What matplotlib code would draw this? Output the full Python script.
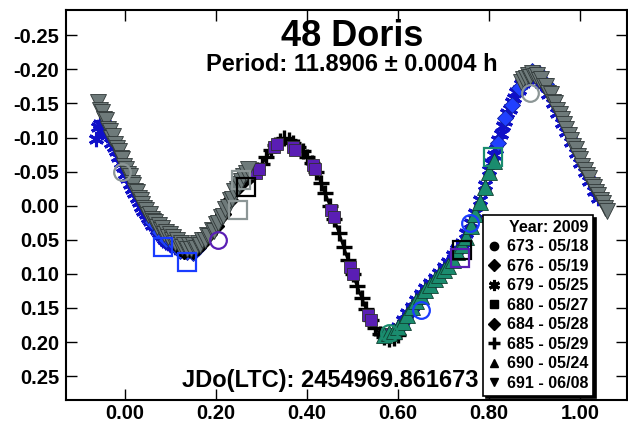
import matplotlib
matplotlib.use("Agg")
import matplotlib.pyplot as plt
from matplotlib.lines import Line2D

plt.rcParams["font.family"] = ["Liberation Sans", "DejaVu Sans"]
plt.rcParams["font.weight"] = "bold"
plt.rcParams["axes.unicode_minus"] = False

# session 679 (05/25) - blue asterisks
s679_ph = [-0.065, -0.060, -0.055, -0.050, -0.045, -0.040, -0.035, -0.030, -0.025, -0.020,
           -0.015, -0.010, -0.005, 0.000, 0.005, 0.010, 0.015, 0.020, 0.025, 0.030,
           0.035, 0.040, 0.045, 0.050, 0.055, 0.060, 0.065, 0.070, 0.075, 0.080,
           0.085, 0.090, 0.095, 0.100, 0.105, 0.110, 0.115, 0.120, 0.125, 0.130,
           0.600, 0.610, 0.620, 0.630, 0.640, 0.650, 0.660, 0.670, 0.680, 0.690,
           0.700, 0.710, 0.720, 0.730, 0.740, 0.750, 0.760, 0.770, 0.780, 0.790,
           0.800, 0.805, 0.810, 0.815, 0.820, 0.825, 0.830, 0.835, 0.840, 0.845,
           0.850, 0.855, 0.860, 0.865, 0.870, 0.875, 0.880, 0.885, 0.890, 0.895,
           0.900, 0.905, 0.910, 0.915, 0.920, 0.930, 0.940, 0.950, 0.960, 0.970,
           0.980, 0.990, 1.000, 1.010, 1.020, 1.030, 1.040]
s679_mag = [-0.098, -0.115, -0.120, -0.108, -0.118, -0.104, -0.110, -0.092, -0.086, -0.080,
            -0.072, -0.062, -0.057, -0.046, -0.040, -0.032, -0.025, -0.018, -0.012, -0.005,
            0.002, 0.008, 0.012, 0.018, 0.022, 0.028, 0.030, 0.036, 0.040, 0.044,
            0.049, 0.052, 0.055, 0.058, 0.056, 0.061, 0.060, 0.064, 0.062, 0.066,
            0.178, 0.168, 0.158, 0.148, 0.138, 0.130, 0.121, 0.114, 0.106, 0.099,
            0.090, 0.082, 0.073, 0.064, 0.054, 0.040, 0.026, 0.010, -0.008, -0.030,
            -0.052, -0.062, -0.075, -0.083, -0.097, -0.105, -0.117, -0.124, -0.136, -0.142,
            -0.152, -0.158, -0.166, -0.170, -0.178, -0.180, -0.186, -0.188, -0.191, -0.190,
            -0.192, -0.188, -0.186, -0.180, -0.178, -0.164, -0.150, -0.136, -0.122, -0.108,
            -0.093, -0.078, -0.062, -0.049, -0.036, -0.022, -0.012]

# session 676 (05/19) - blue diamonds
s676_ph = [0.060, 0.075, 0.090, 0.105, 0.120, 0.135, 0.150, 0.160,
           0.820, 0.835, 0.850, 0.865, 0.880, 0.895, 0.910, 0.925]
s676_mag = [0.024, 0.038, 0.050, 0.054, 0.066, 0.068, 0.070, 0.062,
            -0.092, -0.128, -0.148, -0.172, -0.190, -0.198, -0.195, -0.178]

# session 684 (05/28) - black diamonds
s684_ph = [0.120, 0.130, 0.140, 0.150, 0.160, 0.170, 0.185, 0.200, 0.215, 0.230, 0.245, 0.260, 0.275]
s684_mag = [0.062, 0.066, 0.064, 0.066, 0.060, 0.054, 0.042, 0.030, 0.012, -0.008, -0.026, -0.036, -0.044]

# session 685 (05/29) - black plus
s685_ph = [0.280, 0.290, 0.300, 0.310, 0.320, 0.330, 0.340, 0.350, 0.360, 0.370,
           0.380, 0.390, 0.400, 0.410, 0.420, 0.430, 0.440, 0.450, 0.460, 0.470,
           0.480, 0.490, 0.500, 0.510, 0.520, 0.530, 0.540, 0.550, 0.560, 0.570,
           0.580, 0.590, 0.600]
s685_mag = [-0.047, -0.053, -0.061, -0.071, -0.081, -0.089, -0.095, -0.099, -0.097, -0.092,
            -0.086, -0.080, -0.072, -0.062, -0.050, -0.034, -0.018, 0.000, 0.020, 0.040,
            0.060, 0.080, 0.100, 0.118, 0.135, 0.152, 0.168, 0.180, 0.188, 0.193,
            0.195, 0.194, 0.190]

# session 680 (05/27) - purple squares
s680_ph = [0.288, 0.294, 0.328, 0.334, 0.368, 0.374, 0.412, 0.418, 0.453, 0.459,
           0.494, 0.500, 0.534, 0.540, 0.575]
s680_mag = [-0.048, -0.054, -0.086, -0.090, -0.086, -0.082, -0.060, -0.054, 0.006, 0.016,
            0.090, 0.100, 0.160, 0.168, 0.188]

# session 690 (05/24) - green triangles
s690_ph = [0.570, 0.580, 0.590, 0.600, 0.610, 0.620, 0.630, 0.640, 0.650, 0.660,
           0.670, 0.680, 0.690, 0.700, 0.710, 0.720, 0.730, 0.740, 0.750, 0.760,
           0.770, 0.780, 0.790, 0.800, 0.810]
s690_mag = [0.190, 0.186, 0.184, 0.178, 0.170, 0.160, 0.148, 0.140, 0.132, 0.124,
            0.116, 0.108, 0.102, 0.094, 0.088, 0.080, 0.068, 0.058, 0.046, 0.030,
            0.012, -0.006, -0.028, -0.050, -0.066]

# session 691 (06/08) - grey down triangles
s691_ph = [-0.060, -0.055, -0.050, -0.046, -0.042, -0.038, -0.034, -0.030, -0.026, -0.022,
           -0.018, -0.014, -0.010, -0.006, -0.002, 0.002, 0.006, 0.010, 0.014, 0.018,
           0.022, 0.026, 0.030, 0.034, 0.038, 0.042, 0.046, 0.050, 0.054, 0.058,
           0.062, 0.066, 0.070, 0.074, 0.078, 0.082, 0.086, 0.090, 0.094, 0.098,
           0.102, 0.106, 0.110, 0.114, 0.118, 0.122, 0.126, 0.130, 0.135, 0.140,
           0.145, 0.150, 0.155, 0.160, 0.165, 0.170, 0.175, 0.180, 0.185, 0.190,
           0.195, 0.200, 0.205, 0.210, 0.215, 0.220, 0.225, 0.230, 0.235, 0.240,
           0.245, 0.250, 0.255, 0.260, 0.265, 0.270,
           0.870, 0.875, 0.880, 0.885, 0.890, 0.895, 0.900, 0.905, 0.910, 0.915,
           0.920, 0.925, 0.930, 0.935, 0.940, 0.945, 0.950, 0.955, 0.960, 0.965,
           0.970, 0.975, 0.980, 0.985, 0.990, 0.995, 1.000, 1.005, 1.010, 1.015,
           1.020, 1.025, 1.030, 1.035, 1.040, 1.045, 1.050, 1.055, 1.060]
s691_mag = [-0.152, -0.141, -0.138, -0.127, -0.125, -0.112, -0.110, -0.100, -0.102, -0.091,
            -0.084, -0.080, -0.070, -0.068, -0.058, -0.054, -0.046, -0.043, -0.034, -0.031,
            -0.022, -0.020, -0.011, -0.009, -0.002, 0.003, 0.006, 0.013, 0.012, 0.020,
            0.022, 0.024, 0.031, 0.028, 0.036, 0.033, 0.042, 0.038, 0.046, 0.042,
            0.051, 0.046, 0.055, 0.050, 0.058, 0.054, 0.060, 0.057, 0.063, 0.058,
            0.064, 0.057, 0.062, 0.055, 0.057, 0.050, 0.051, 0.043, 0.045, 0.036,
            0.037, 0.027, 0.026, 0.016, 0.015, 0.005, 0.002, -0.008, -0.010, -0.021,
            -0.024, -0.032, -0.036, -0.043, -0.048, -0.054,
            -0.182, -0.186, -0.187, -0.192, -0.189, -0.194, -0.190, -0.192, -0.184, -0.186,
            -0.176, -0.175, -0.165, -0.164, -0.152, -0.150, -0.140, -0.135, -0.127, -0.120,
            -0.112, -0.104, -0.097, -0.088, -0.083, -0.073, -0.068, -0.058, -0.053, -0.045,
            -0.040, -0.031, -0.028, -0.020, -0.016, -0.008, -0.004, 0.004, 0.008]

# big open markers
open_circ_ph = [-0.007, 0.203, 0.580, 0.651, 0.757, 0.890]
open_circ_mag = [-0.049, 0.051, 0.187, 0.153, 0.026, -0.165]
open_circ_col = ["#8c9696", "#5a1eb4", "#1a8c6e", "#1a3cff", "#1a3cff", "#8c9696"]
open_sq_ph = [0.254, 0.247, 0.265, 0.084, 0.137, 0.808, 0.740, 0.735]
open_sq_mag = [-0.037, 0.007, -0.027, 0.061, 0.083, -0.071, 0.065, 0.077]
open_sq_col = ["#8c9696", "#8c9696", "black", "#1a3cff", "#1a3cff", "#1a8c6e", "black", "#5a1eb4"]

legend_labels = ["673 - 05/18", "676 - 05/19", "679 - 05/25", "680 - 05/27",
                 "684 - 05/28", "685 - 05/29", "690 - 05/24", "691 - 06/08"]
legend_markers = ["o", "D", (6, 2, 0), "s", "D", "+", "^", "v"]

fig = plt.figure(figsize=(6.28, 4.25), dpi=100)
ax = fig.add_axes([66 / 628, 25 / 425, 561 / 628, 390 / 425])

ax.plot(s679_ph, s679_mag, ls="none", marker=(6, 2, 0), ms=11, mew=2.2, mec="#1010c8")
ax.plot(s676_ph, s676_mag, ls="none", marker="D", ms=8, mfc="#2040ff", mec="#1020a0", mew=0.6)
ax.plot(s684_ph, s684_mag, ls="none", marker="D", ms=8, mfc="black", mec="black")
ax.plot(s685_ph, s685_mag, ls="-", lw=2, color="black", marker="+", ms=11, mew=2.4)
ax.plot(s680_ph, s680_mag, ls="none", marker="s", ms=9, mfc="#5a1eb4", mec="#303030", mew=0.6)
ax.plot(s690_ph, s690_mag, ls="none", marker="^", ms=11, mfc="#1a8c6e", mec="#104030", mew=0.6)
ax.plot(s691_ph, s691_mag, ls="none", marker="v", ms=11, mfc="#6e7a7a", mec="#303838", mew=0.6)
for x, y, c in zip(open_circ_ph, open_circ_mag, open_circ_col):
    ax.plot(x, y, ls="none", marker="o", ms=12, mfc="none", mec=c, mew=1.6)
for x, y, c in zip(open_sq_ph, open_sq_mag, open_sq_col):
    ax.plot(x, y, ls="none", marker="s", ms=13, mfc="none", mec=c, mew=1.6)

ax.set_xlim(-0.13, 1.103)
ax.set_ylim(0.285, -0.287)
ax.set_xticks([0.0, 0.2, 0.4, 0.6, 0.8, 1.0])
ax.set_xticklabels(["%.2f" % v for v in [0.0, 0.2, 0.4, 0.6, 0.8, 1.0]])
yt = [-0.25, -0.20, -0.15, -0.10, -0.05, 0.0, 0.05, 0.10, 0.15, 0.20, 0.25]
ax.set_yticks(yt)
ax.set_yticklabels(["%.2f" % v for v in yt])
ax.tick_params(direction="in", length=8, width=1, top=True, right=True,
               labelsize=14.5)
ax.tick_params(axis="x", pad=3)
ax.tick_params(axis="y", pad=5)
for lab in ax.get_xticklabels() + ax.get_yticklabels():
    lab.set_fontweight("bold")
for sp in ax.spines.values():
    sp.set_linewidth(1.5)

ax.text(0.51, 0.931, "48 Doris", transform=ax.transAxes, ha="center", va="center",
        fontsize=26, fontweight="bold")
ax.text(0.51, 0.859, "Period: 11.8906 \u00b1 0.0004 h", transform=ax.transAxes,
        ha="center", va="center", fontsize=17, fontweight="bold")
ax.text(0.471, 0.051, "JDo(LTC): 2454969.861673", transform=ax.transAxes,
        ha="center", va="center", fontsize=17, fontweight="bold")

handles = []
for m in legend_markers:
    if m == "+":
        handles.append(Line2D([], [], ls="none", marker=m, ms=8, mew=2.5, color="black"))
    elif m == (6, 2, 0):
        handles.append(Line2D([], [], ls="none", marker=m, ms=8, mew=2.2, color="black"))
    else:
        handles.append(Line2D([], [], ls="none", marker=m, ms=6, color="black"))
leg = ax.legend(handles, legend_labels, title="Year: 2009", loc="upper left",
                bbox_to_anchor=(0.743, 0.474), borderaxespad=0, fontsize=11.5,
                title_fontproperties={"size": 11.5, "weight": "bold"},
                alignment="right", handlelength=0.8, handletextpad=0.4,
                labelspacing=0.28, borderpad=0.3, fancybox=False, framealpha=1,
                edgecolor="black", shadow={"color": "black", "alpha": 1})
leg.get_frame().set_linewidth(1.2)
for t in leg.get_texts():
    t.set_fontweight("bold")

fig.savefig("out.png", dpi=100)
